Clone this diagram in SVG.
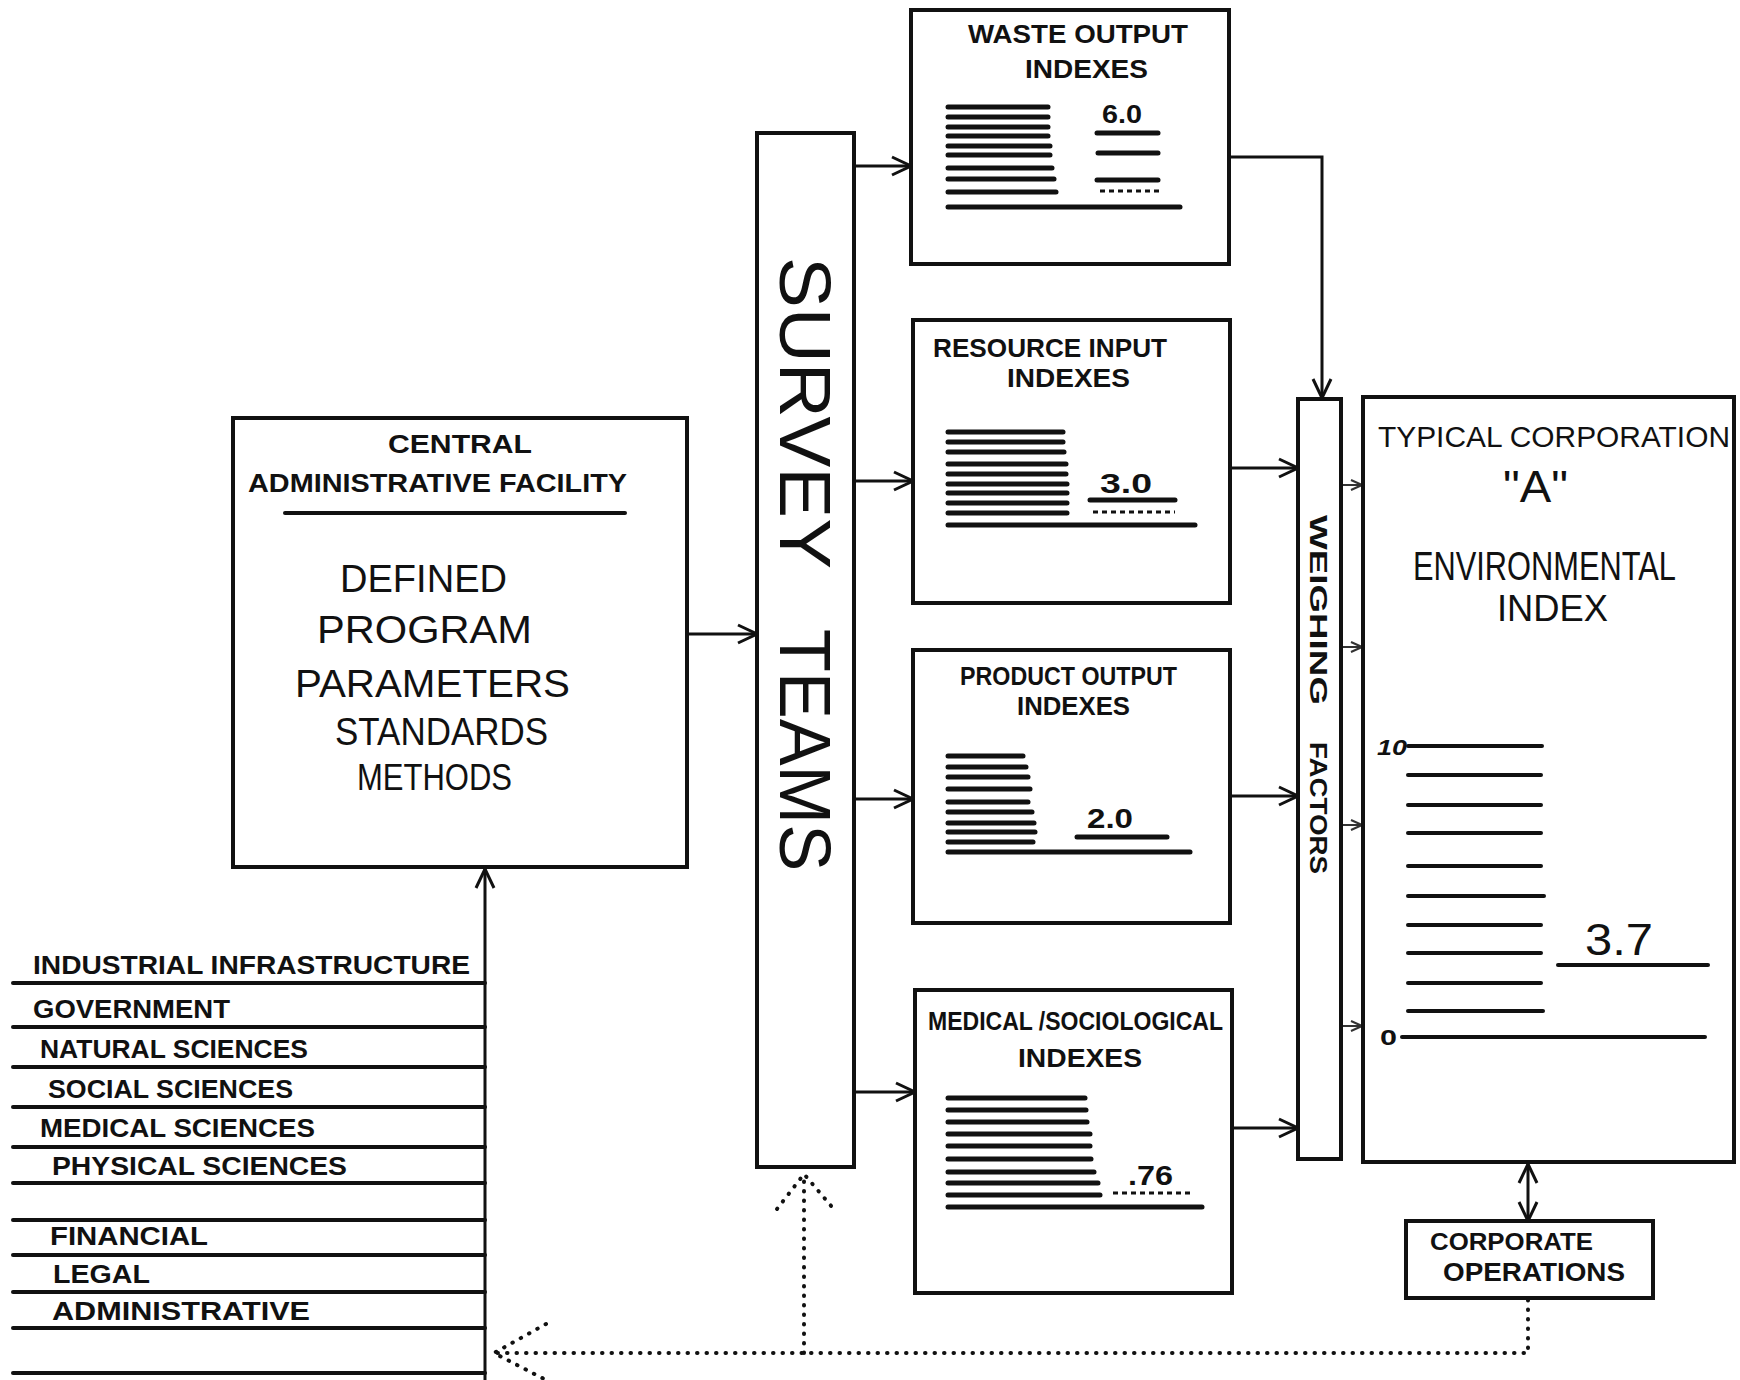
<svg xmlns="http://www.w3.org/2000/svg" width="1740" height="1380" viewBox="0 0 1740 1380">
<style>
  .box { fill: none; stroke: #111; stroke-width: 4; }
  .thin { fill: none; stroke: #111; stroke-width: 3; }
  .rule { stroke: #111; stroke-width: 4; stroke-linecap: round; }
  .fill { stroke: #111; stroke-width: 5; stroke-linecap: round; }
  .dash { stroke: #111; stroke-width: 3; stroke-dasharray: 5 4; }
  .conn { fill: none; stroke: #111; stroke-width: 3; }
  .faint { fill: none; stroke: #333; stroke-width: 2; }
  .dots { fill: none; stroke: #111; stroke-width: 4; stroke-dasharray: 0.5 9; stroke-linecap: round; }
  .t { font-family: "Liberation Sans", "DejaVu Sans", sans-serif; fill: #111; }
  .b { font-weight: bold; }
</style>
<defs>
  <marker id="arr" viewBox="0 0 24 24" refX="22" refY="12" markerWidth="24" markerHeight="24" markerUnits="userSpaceOnUse" orient="auto-start-reverse">
    <path d="M3,3 L22,12 L3,21" fill="none" stroke="#111" stroke-width="3"/>
  </marker>
  <marker id="sarr" viewBox="0 0 14 14" refX="13" refY="7" markerWidth="14" markerHeight="14" markerUnits="userSpaceOnUse" orient="auto">
    <path d="M2,2 L13,7 L2,12" fill="none" stroke="#333" stroke-width="2"/>
  </marker>
</defs>
<rect x="0" y="0" width="1740" height="1380" fill="#fff"/>

<g id="connectors">
  <line class="conn" x1="687" y1="634" x2="757" y2="634" marker-end="url(#arr)"/>
  <line class="conn" x1="855" y1="166" x2="911" y2="166" marker-end="url(#arr)"/>
  <line class="conn" x1="855" y1="481" x2="913" y2="481" marker-end="url(#arr)"/>
  <line class="conn" x1="855" y1="799" x2="913" y2="799" marker-end="url(#arr)"/>
  <line class="conn" x1="855" y1="1092" x2="915" y2="1092" marker-end="url(#arr)"/>
  <path class="conn" d="M1230,157 H1322 V398" marker-end="url(#arr)"/>
  <line class="conn" x1="1230" y1="468" x2="1298" y2="468" marker-end="url(#arr)"/>
  <line class="conn" x1="1230" y1="796" x2="1298" y2="796" marker-end="url(#arr)"/>
  <line class="conn" x1="1232" y1="1128" x2="1298" y2="1128" marker-end="url(#arr)"/>
  <line class="faint" x1="1342" y1="485" x2="1362" y2="485" marker-end="url(#sarr)"/>
  <line class="faint" x1="1342" y1="647" x2="1362" y2="647" marker-end="url(#sarr)"/>
  <line class="faint" x1="1342" y1="825" x2="1362" y2="825" marker-end="url(#sarr)"/>
  <line class="faint" x1="1342" y1="1026" x2="1362" y2="1026" marker-end="url(#sarr)"/>
  <line class="conn" x1="1528" y1="1221" x2="1528" y2="1164" marker-start="url(#arr)" marker-end="url(#arr)"/>
  <line class="conn" x1="485" y1="1380" x2="485" y2="869" marker-end="url(#arr)"/>
  <path class="dots" d="M1528,1300 V1353 H494"/>
  <path class="dots" d="M546,1324 L494,1353 L546,1380"/>
  <path class="dots" d="M804,1353 V1174"/>
  <path class="dots" d="M777,1209 L804,1174 L832,1207"/>
</g>

<g id="central-admin">
  <rect class="box" x="233" y="418" width="454" height="449"/>
  <text class="t b" x="388" y="453" font-size="25" textLength="144" lengthAdjust="spacingAndGlyphs">CENTRAL</text>
  <text class="t b" x="248" y="492" font-size="26" textLength="379" lengthAdjust="spacingAndGlyphs">ADMINISTRATIVE FACILITY</text>
  <line class="rule" x1="285" y1="513" x2="625" y2="513"/>
  <text class="t" x="340" y="592" font-size="38" textLength="167" lengthAdjust="spacingAndGlyphs">DEFINED</text>
  <text class="t" x="317" y="643" font-size="38" textLength="215" lengthAdjust="spacingAndGlyphs">PROGRAM</text>
  <text class="t" x="295" y="697" font-size="38" textLength="275" lengthAdjust="spacingAndGlyphs">PARAMETERS</text>
  <text class="t" x="335" y="745" font-size="38" textLength="213" lengthAdjust="spacingAndGlyphs">STANDARDS</text>
  <text class="t" x="357" y="790" font-size="36" textLength="155" lengthAdjust="spacingAndGlyphs">METHODS</text>
</g>

<g id="survey-teams">
  <rect class="box" x="757" y="133" width="97" height="1034"/>
  <text class="t" transform="translate(780,257) rotate(90)" x="0" y="0" font-size="72" textLength="312" lengthAdjust="spacingAndGlyphs">SURVEY</text>
  <text class="t" transform="translate(780,629) rotate(90)" x="0" y="0" font-size="72" textLength="242" lengthAdjust="spacingAndGlyphs">TEAMS</text>
</g>

<g id="waste-output">
  <rect class="box" x="911" y="10" width="318" height="254"/>
  <text class="t b" x="968" y="43" font-size="26" textLength="220" lengthAdjust="spacingAndGlyphs">WASTE OUTPUT</text>
  <text class="t b" x="1025" y="78" font-size="26" textLength="123" lengthAdjust="spacingAndGlyphs">INDEXES</text>
  <text class="t b" x="1102" y="123" font-size="26" textLength="40" lengthAdjust="spacingAndGlyphs">6.0</text>
  <g class="fill">
    <line x1="948" y1="107" x2="1048" y2="107"/><line x1="948" y1="117" x2="1048" y2="117"/>
    <line x1="948" y1="127" x2="1048" y2="127"/><line x1="948" y1="136" x2="1048" y2="136"/>
    <line x1="948" y1="146" x2="1050" y2="146"/><line x1="948" y1="155" x2="1050" y2="155"/>
    <line x1="948" y1="168" x2="1052" y2="168"/><line x1="948" y1="179" x2="1054" y2="179"/>
    <line x1="948" y1="192" x2="1056" y2="192"/><line x1="948" y1="207" x2="1180" y2="207"/>
    <line x1="1097" y1="133" x2="1158" y2="133"/><line x1="1098" y1="153" x2="1158" y2="153"/>
    <line x1="1097" y1="180" x2="1158" y2="180"/>
  </g>
  <line class="dash" x1="1100" y1="191" x2="1160" y2="191"/>
</g>

<g id="resource-input">
  <rect class="box" x="913" y="320" width="317" height="283"/>
  <text class="t b" x="933" y="357" font-size="26" textLength="234" lengthAdjust="spacingAndGlyphs">RESOURCE INPUT</text>
  <text class="t b" x="1007" y="387" font-size="26" textLength="123" lengthAdjust="spacingAndGlyphs">INDEXES</text>
  <text class="t b" x="1100" y="493" font-size="28" textLength="52" lengthAdjust="spacingAndGlyphs">3.0</text>
  <g class="fill">
    <line x1="948" y1="432" x2="1063" y2="432"/><line x1="948" y1="442" x2="1063" y2="442"/>
    <line x1="948" y1="452" x2="1064" y2="452"/><line x1="948" y1="464" x2="1066" y2="464"/>
    <line x1="948" y1="474" x2="1066" y2="474"/><line x1="948" y1="484" x2="1067" y2="484"/>
    <line x1="948" y1="493" x2="1067" y2="493"/><line x1="948" y1="503" x2="1067" y2="503"/>
    <line x1="948" y1="513" x2="1067" y2="513"/><line x1="948" y1="525" x2="1195" y2="525"/>
    <line x1="1090" y1="500" x2="1175" y2="500"/>
  </g>
  <line class="dash" x1="1093" y1="512" x2="1175" y2="512"/>
</g>

<g id="product-output">
  <rect class="box" x="913" y="650" width="317" height="273"/>
  <text class="t b" x="960" y="685" font-size="26" textLength="217" lengthAdjust="spacingAndGlyphs">PRODUCT OUTPUT</text>
  <text class="t b" x="1017" y="715" font-size="26" textLength="113" lengthAdjust="spacingAndGlyphs">INDEXES</text>
  <text class="t b" x="1087" y="828" font-size="28" textLength="46" lengthAdjust="spacingAndGlyphs">2.0</text>
  <g class="fill">
    <line x1="948" y1="756" x2="1023" y2="756"/><line x1="948" y1="767" x2="1026" y2="767"/>
    <line x1="948" y1="777" x2="1028" y2="777"/><line x1="948" y1="789" x2="1030" y2="789"/>
    <line x1="948" y1="802" x2="1028" y2="802"/><line x1="948" y1="812" x2="1032" y2="812"/>
    <line x1="948" y1="823" x2="1034" y2="823"/><line x1="948" y1="832" x2="1035" y2="832"/>
    <line x1="948" y1="842" x2="1033" y2="842"/><line x1="948" y1="852" x2="1190" y2="852"/>
    <line x1="1077" y1="837" x2="1167" y2="837"/>
  </g>
</g>

<g id="medical-sociological">
  <rect class="box" x="915" y="990" width="317" height="303"/>
  <text class="t b" x="928" y="1030" font-size="25" textLength="295" lengthAdjust="spacingAndGlyphs">MEDICAL /SOCIOLOGICAL</text>
  <text class="t b" x="1018" y="1067" font-size="26" textLength="124" lengthAdjust="spacingAndGlyphs">INDEXES</text>
  <text class="t b" x="1128" y="1185" font-size="28" textLength="45" lengthAdjust="spacingAndGlyphs">.76</text>
  <g class="fill">
    <line x1="948" y1="1098" x2="1085" y2="1098"/><line x1="948" y1="1110" x2="1086" y2="1110"/>
    <line x1="948" y1="1122" x2="1087" y2="1122"/><line x1="948" y1="1134" x2="1090" y2="1134"/>
    <line x1="948" y1="1146" x2="1090" y2="1146"/><line x1="948" y1="1159" x2="1091" y2="1159"/>
    <line x1="948" y1="1172" x2="1094" y2="1172"/><line x1="948" y1="1183" x2="1098" y2="1183"/>
    <line x1="948" y1="1195" x2="1100" y2="1195"/><line x1="948" y1="1207" x2="1202" y2="1207"/>
  </g>
  <line class="dash" x1="1113" y1="1193" x2="1193" y2="1193"/>
</g>

<g id="weighing-factors">
  <rect class="box" x="1298" y="399" width="43" height="760"/>
  <text class="t b" transform="translate(1310,515) rotate(90)" x="0" y="0" font-size="23" textLength="190" lengthAdjust="spacingAndGlyphs">WEIGHING</text>
  <text class="t b" transform="translate(1310,742) rotate(90)" x="0" y="0" font-size="23" textLength="132" lengthAdjust="spacingAndGlyphs">FACTORS</text>
</g>

<g id="corporation-index">
  <rect class="box" x="1363" y="397" width="371" height="765"/>
  <text class="t" x="1378" y="447" font-size="29" textLength="352" lengthAdjust="spacingAndGlyphs">TYPICAL CORPORATION</text>
  <text class="t" x="1503" y="502" font-size="44" textLength="65" lengthAdjust="spacingAndGlyphs">"A"</text>
  <text class="t" transform="translate(1413,580) scale(0.77,1)" x="0" y="0" font-size="40">ENVIRONMENTAL</text>
  <text class="t" x="1497" y="621" font-size="36" textLength="111" lengthAdjust="spacingAndGlyphs">INDEX</text>
  <text class="t b" x="1377" y="755" font-size="22" font-style="italic" textLength="30" lengthAdjust="spacingAndGlyphs">10</text>
  <text class="t b" x="1380" y="1045" font-size="22" textLength="17" lengthAdjust="spacingAndGlyphs">0</text>
  <g class="rule">
    <line x1="1408" y1="746" x2="1542" y2="746"/><line x1="1408" y1="775" x2="1541" y2="775"/>
    <line x1="1408" y1="805" x2="1541" y2="805"/><line x1="1408" y1="833" x2="1541" y2="833"/>
    <line x1="1408" y1="866" x2="1541" y2="866"/><line x1="1408" y1="896" x2="1544" y2="896"/>
    <line x1="1408" y1="925" x2="1541" y2="925"/><line x1="1408" y1="953" x2="1541" y2="953"/>
    <line x1="1408" y1="983" x2="1541" y2="983"/><line x1="1408" y1="1011" x2="1543" y2="1011"/>
    <line x1="1402" y1="1037" x2="1705" y2="1037"/>
    <line x1="1558" y1="965" x2="1708" y2="965"/>
  </g>
  <text class="t" x="1585" y="955" font-size="44" textLength="68" lengthAdjust="spacingAndGlyphs">3.7</text>
</g>

<g id="corporate-operations">
  <rect class="box" x="1406" y="1221" width="247" height="77"/>
  <text class="t b" x="1430" y="1250" font-size="23" textLength="163" lengthAdjust="spacingAndGlyphs">CORPORATE</text>
  <text class="t b" x="1443" y="1281" font-size="25" textLength="182" lengthAdjust="spacingAndGlyphs">OPERATIONS</text>
</g>

<g id="resource-list">
  <g class="rule">
    <line x1="13" y1="983" x2="485" y2="983"/><line x1="13" y1="1027" x2="485" y2="1027"/>
    <line x1="13" y1="1067" x2="485" y2="1067"/><line x1="13" y1="1107" x2="485" y2="1107"/>
    <line x1="13" y1="1147" x2="485" y2="1147"/><line x1="13" y1="1183" x2="485" y2="1183"/>
    <line x1="13" y1="1220" x2="485" y2="1220"/><line x1="13" y1="1255" x2="485" y2="1255"/>
    <line x1="13" y1="1292" x2="485" y2="1292"/><line x1="13" y1="1328" x2="485" y2="1328"/>
    <line x1="13" y1="1373" x2="485" y2="1373"/>
  </g>
  <text class="t b" x="33" y="974" font-size="26" textLength="437" lengthAdjust="spacingAndGlyphs">INDUSTRIAL INFRASTRUCTURE</text>
  <text class="t b" x="33" y="1018" font-size="25" textLength="197" lengthAdjust="spacingAndGlyphs">GOVERNMENT</text>
  <text class="t b" x="40" y="1058" font-size="25" textLength="268" lengthAdjust="spacingAndGlyphs">NATURAL SCIENCES</text>
  <text class="t b" x="48" y="1098" font-size="25" textLength="245" lengthAdjust="spacingAndGlyphs">SOCIAL SCIENCES</text>
  <text class="t b" x="40" y="1137" font-size="25" textLength="275" lengthAdjust="spacingAndGlyphs">MEDICAL SCIENCES</text>
  <text class="t b" x="52" y="1175" font-size="25" textLength="295" lengthAdjust="spacingAndGlyphs">PHYSICAL SCIENCES</text>
  <text class="t b" x="50" y="1245" font-size="25" textLength="158" lengthAdjust="spacingAndGlyphs">FINANCIAL</text>
  <text class="t b" x="53" y="1283" font-size="25" textLength="97" lengthAdjust="spacingAndGlyphs">LEGAL</text>
  <text class="t b" x="52" y="1320" font-size="25" textLength="258" lengthAdjust="spacingAndGlyphs">ADMINISTRATIVE</text>
</g>
</svg>
